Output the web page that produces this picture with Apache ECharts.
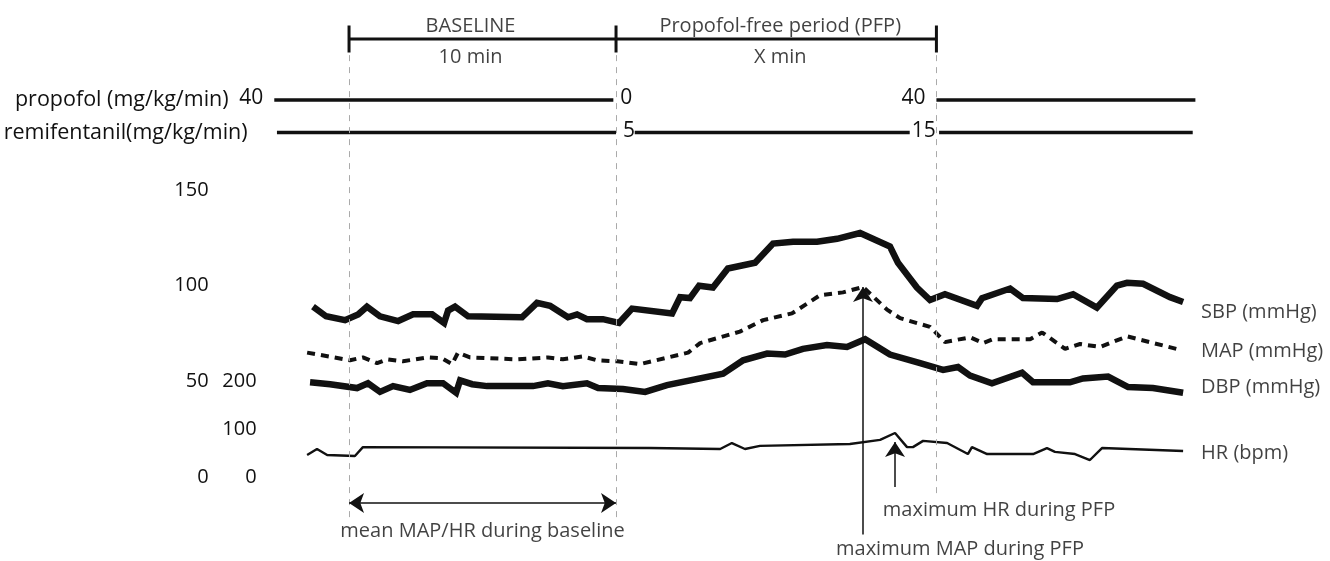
<!DOCTYPE html>
<html>
<head>
<meta charset="utf-8">
<title>Propofol-free period</title>
<script src="https://cdn.jsdelivr.net/npm/echarts@6/dist/echarts.min.js"></script>
<style>
html, body { margin: 0; padding: 0; background: #fff; }
#main { width: 1330px; height: 561px; }
</style>
</head>
<body>
<div id="main"></div>
<script>
// time is in minutes from the start of the baseline
var periodEdges = [0, 10, 22];
var periodNames = ['BASELINE', 'Propofol-free period (PFP)'];
var periodLengths = ['10 min', 'X min'];

// infusion rows, segments [from, to] and the rate written at each end
var infusionRows = ['propofol (mg/kg/min)', 'remifentanil(mg/kg/min)'];
var propofolSegments = [[-2.8, 9.9], [22.0, 31.7]];
var propofolRates = ['40', '0', '40', ''];
var remiSegments = [[-2.7, 10.0], [10.7, 21.0], [22.1, 31.6]];
var remiRates = ['', '5', '', '15', '', ''];

// blood pressure traces [min, mmHg]
var sbp = [[-1.35,89],[-0.86,84],[-0.15,82],[0.34,85],[0.67,89],[1.16,84],[1.84,81.5],[2.4,85],[3.11,85],[3.56,80.5],[3.71,87],[3.97,89],[4.46,84],[6.48,83.5],[7.04,91],[7.53,89.5],[8.2,83.5],[8.54,85],[8.91,82.5],[9.51,82.5],[10.11,80.5],[10.6,88],[12.1,85.5],[12.4,94],[12.77,93.5],[13.11,100],[13.63,99],[14.19,109],[15.21,112],[15.88,122],[16.63,123],[17.53,123],[18.28,124.5],[19.14,127.5],[20.26,120.5],[20.56,112],[21.27,99],[21.76,92.5],[22.32,95.5],[23.52,89.5],[23.71,93.5],[24.76,98.5],[25.24,93.5],[26.52,93],[27.12,95.5],[28.01,88.5],[28.76,100],[29.14,101.5],[29.74,101],[30.75,94],[31.24,91.5]];
var mapBp = [[-1.57,65],[0.04,61],[0.52,62.5],[1.05,59.5],[1.42,61.5],[2.02,60.5],[2.92,62.5],[3.48,62],[3.86,59],[4.08,65],[4.53,62.5],[6.29,61.5],[7.45,62.5],[8.01,61.5],[8.76,63],[9.29,61],[10.04,60.5],[10.9,59],[12.7,65],[13.15,70],[14.64,76],[15.51,82],[16.59,85.5],[17.64,95],[18.5,96.5],[19.25,99.3],[20.15,87.5],[20.64,83],[21.76,78.5],[22.32,70.5],[23.26,73],[23.75,70],[24.12,72],[25.51,72],[25.96,75.5],[26.82,67],[27.38,69.5],[28.13,68],[29.14,73.5],[31.12,66.5]];
var dbp = [[-1.46,49.5],[-0.71,48.5],[0.3,46.5],[0.71,49],[1.16,44.5],[1.65,47.5],[2.28,45.5],[2.92,49],[3.52,49],[4.01,44],[4.16,50.5],[4.61,48.5],[5.17,47.5],[6.89,47.5],[7.45,49],[8.01,47.5],[8.91,49],[9.33,46.5],[10.26,46],[11.09,44.5],[11.91,48],[14.01,54],[14.76,61],[15.66,64.5],[16.33,64],[17.0,67],[17.9,69],[18.65,68],[19.33,72],[20.26,64],[21.39,59.5],[22.25,56],[22.81,57.5],[23.26,53],[24.08,49],[25.21,54.5],[25.62,49.5],[27.0,49.5],[27.49,51.5],[28.43,52.5],[29.18,47],[30.11,46.5],[31.24,44]];

// heart rate [min, bpm]
var hr = [[-1.57,46],[-1.2,58.5],[-0.82,46],[0.22,44],[0.52,62.5],[11.27,60.5],[13.9,58.5],[14.34,71],[14.83,58.5],[15.39,65],[18.76,69],[19.89,77.5],[20.45,92],[20.9,62.5],[21.12,62.5],[21.5,75.5],[22.4,71],[23.18,48],[23.33,62.5],[23.9,48],[25.62,48],[26.14,60.5],[26.44,52.5],[27.19,48],[27.75,35.5],[28.2,60.5],[31.24,54.5]];

var traceNames = ['SBP (mmHg)', 'MAP (mmHg)', 'DBP (mmHg)', 'HR (bpm)'];
var bpTicks = [0, 50, 100, 150];
var hrTicks = [0, 100, 200];

var FONT = 'Open Sans';
var INK = '#111';
var TXT = '#111';

// peak of a trace inside the propofol-free period
function peakIn(trace, from, to) {
	var best = null;
	for (var i = 0; i < trace.length; i++) {
		var p = trace[i];
		if (p[0] >= from && p[0] <= to && (best == null || p[1] > best[1])) best = p;
	}
	return best;
}

// turn segments into line data with the rates as point labels
function segmentData(segs, rates, row) {
	var out = [];
	for (var i = 0; i < segs.length; i++) {
		if (i > 0) out.push('-');
		var a = rates[2 * i], b = rates[2 * i + 1];
		out.push({ value: [segs[i][0], row], label: { show: a !== '', formatter: a, position: 'left', distance: 11 } });
		out.push({ value: [segs[i][1], row], label: { show: b !== '', formatter: b, position: 'right', distance: b === '15' ? 2 : 7 } });
	}
	return out;
}

function txt(size) {
	return { fontFamily: FONT, fontSize: size || 20, color: TXT };
}

var mapPeak = peakIn(mapBp, periodEdges[1], periodEdges[2]);
var hrPeak = peakIn(hr, periodEdges[1], periodEdges[2]);

var gridX = { left: 263.6, right: 19.8 };

function hiddenX(i) {
	return { type: 'value', gridIndex: i, min: -3.2, max: 36, show: false };
}

var periodLabelData = [];
for (var k = 0; k < periodNames.length; k++) {
	var mid = (periodEdges[k] + periodEdges[k + 1]) / 2;
	var shift = k === 0 ? -12 : 4;
	periodLabelData.push({ value: [mid, 0], label: { formatter: periodNames[k], position: 'top', distance: 3, offset: [shift, 0] } });
	periodLabelData.push({ value: [mid, 0], label: { formatter: periodLengths[k], position: 'bottom', distance: 8, offset: [shift, 0] } });
}

var endOffsets = [[18, 10], [21, 2], [18, -6], [18, 2]];
var bpTraces = [sbp, mapBp, dbp];
var endBp = [];
for (var j = 0; j < 3; j++) {
	var last = bpTraces[j][bpTraces[j].length - 1];
	endBp.push({ value: last, label: { formatter: traceNames[j], distance: endOffsets[j][0], offset: [0, endOffsets[j][1]] } });
}
var endHr = [{ value: hr[hr.length - 1], label: { formatter: traceNames[3], distance: endOffsets[3][0], offset: [0, endOffsets[3][1]] } }];

var guideBottom = [-23.5, -23.5, -10];
var guides = [];
for (var g = 0; g < periodEdges.length; g++) {
	guides.push([{ coord: [periodEdges[g], 220.5] }, { coord: [periodEdges[g], guideBottom[g]] }]);
}

var baselineArrowY = -13.6;
var mapArrowBottom = -30;
var hrArrowBottom = -21;

var option = {
	animation: false,
	backgroundColor: '#fff',
	textStyle: { fontFamily: FONT },
	grid: [
		{ left: gridX.left, right: gridX.right, top: 46.5, bottom: 26.6 },
		{ left: gridX.left, right: gridX.right, top: 26, height: 26 },
		{ left: gridX.left, right: gridX.right, top: 83.75, height: 65 }
	],
	xAxis: [hiddenX(0), hiddenX(1), hiddenX(2)],
	yAxis: [
		{
			type: 'value', gridIndex: 0, min: -30, max: 225, interval: 5,
			axisLine: { show: false }, axisTick: { show: false }, splitLine: { show: false },
			axisLabel: Object.assign(txt(20), { margin: 55, formatter: function (v) { return bpTicks.indexOf(v) >= 0 ? String(v) : ''; } })
		},
		{
			type: 'value', gridIndex: 0, position: 'left', min: -120, max: 900, interval: 20,
			axisLine: { show: false }, axisTick: { show: false }, splitLine: { show: false },
			axisLabel: Object.assign(txt(20), { margin: 7, formatter: function (v) { return hrTicks.indexOf(v) >= 0 ? String(v) : ''; } })
		},
		{ type: 'category', gridIndex: 1, data: ['period'], show: false },
		{
			type: 'category', gridIndex: 2, data: infusionRows, inverse: true,
			axisLine: { show: false }, axisTick: { show: false }, splitLine: { show: false },
			axisLabel: {
				margin: 16,
				formatter: function (v, i) { return i === 0 ? '{p|' + v + '}' : '{r|' + v + '}'; },
				rich: {
					p: { fontFamily: FONT, fontSize: 21.5, color: TXT, padding: [0, 19, 0, 0] },
					r: { fontFamily: FONT, fontSize: 21.5, color: TXT }
				}
			}
		}
	],
	series: [
		{
			// period bars with end ticks
			type: 'line', xAxisIndex: 1, yAxisIndex: 2,
			data: periodEdges.map(function (x) { return [x, 0]; }),
			symbol: 'rect', symbolSize: [3, 27],
			itemStyle: { color: INK }, lineStyle: { color: INK, width: 3 }
		},
		{
			type: 'scatter', xAxisIndex: 1, yAxisIndex: 2,
			data: periodLabelData, symbolSize: 0, itemStyle: { color: 'transparent' },
			label: Object.assign(txt(20), { show: true })
		},
		{
			type: 'line', xAxisIndex: 2, yAxisIndex: 3,
			data: segmentData(propofolSegments, propofolRates, 0),
			symbol: 'circle', symbolSize: 0, showSymbol: true,
			itemStyle: { color: INK }, lineStyle: { color: INK, width: 3.5 },
			label: Object.assign(txt(21), { offset: [0, -2] })
		},
		{
			type: 'line', xAxisIndex: 2, yAxisIndex: 3,
			data: segmentData(remiSegments, remiRates, 1),
			symbol: 'circle', symbolSize: 0, showSymbol: true,
			itemStyle: { color: INK }, lineStyle: { color: INK, width: 3.5 },
			label: Object.assign(txt(21), { offset: [0, -1] })
		},
		{
			name: traceNames[0], type: 'line', xAxisIndex: 0, yAxisIndex: 0,
			data: sbp, showSymbol: false,
			lineStyle: { color: INK, width: 6.5, join: 'miter', miterLimit: 4 },
			markLine: {
				silent: true, symbol: 'none', label: { show: false },
				lineStyle: { color: '#aaa', width: 1, type: [6, 6] },
				data: guides
			}
		},
		{
			name: traceNames[1], type: 'line', xAxisIndex: 0, yAxisIndex: 0,
			data: mapBp, showSymbol: false,
			lineStyle: { color: INK, width: 4, type: [8, 6] },
			markLine: {
				silent: true, symbol: ['arrow', 'arrow'], symbolSize: 15, label: { show: false },
				lineStyle: { color: INK, width: 1.5, type: 'solid' },
				data: [
					[{ coord: [periodEdges[0], baselineArrowY] }, { coord: [periodEdges[1], baselineArrowY] }],
					[{ coord: [mapPeak[0], mapArrowBottom], symbol: 'none' }, { coord: [mapPeak[0], mapPeak[1]], symbol: 'arrow' }]
				]
			}
		},
		{
			name: traceNames[2], type: 'line', xAxisIndex: 0, yAxisIndex: 0,
			data: dbp, showSymbol: false,
			lineStyle: { color: INK, width: 6.5, join: 'miter', miterLimit: 4 }
		},
		{
			name: traceNames[3], type: 'line', xAxisIndex: 0, yAxisIndex: 1,
			data: hr, showSymbol: false,
			lineStyle: { color: INK, width: 2.4 },
			markLine: {
				silent: true, symbol: ['none', 'arrow'], symbolSize: 15, label: { show: false },
				lineStyle: { color: INK, width: 1.5, type: 'solid' },
				data: [[{ coord: [hrPeak[0], hrArrowBottom] }, { coord: [hrPeak[0], hrPeak[1] - 19] }]]
			}
		},
		{
			// trace names at the right end
			type: 'scatter', xAxisIndex: 0, yAxisIndex: 0, clip: false,
			data: endBp, symbolSize: 0, itemStyle: { color: 'transparent' },
			label: Object.assign(txt(20), { show: true, position: 'right' })
		},
		{
			type: 'scatter', xAxisIndex: 0, yAxisIndex: 1, clip: false,
			data: endHr, symbolSize: 0, itemStyle: { color: 'transparent' },
			label: Object.assign(txt(20), { show: true, position: 'right' })
		},
		{
			// notes under the arrows
			type: 'scatter', xAxisIndex: 0, yAxisIndex: 0, clip: false,
			symbolSize: 0, itemStyle: { color: 'transparent' },
			label: Object.assign(txt(20), { show: true, position: 'bottom' }),
			data: [
				{ value: [(periodEdges[0] + periodEdges[1]) / 2, baselineArrowY], label: { formatter: 'mean MAP/HR during baseline', distance: 18 } },
				{ value: [mapPeak[0], mapArrowBottom], label: { formatter: 'maximum MAP during PFP', distance: 5, offset: [97, 0] } }
			]
		},
		{
			type: 'scatter', xAxisIndex: 0, yAxisIndex: 1, clip: false,
			symbolSize: 0, itemStyle: { color: 'transparent' },
			label: Object.assign(txt(20), { show: true, position: 'bottom' }),
			data: [
				{ value: [hrPeak[0], hrArrowBottom], label: { formatter: 'maximum HR during PFP', distance: 13, offset: [104, 0] } }
			]
		}
	]
};

var chart = echarts.init(document.getElementById('main'));
chart.setOption(option);
</script>
</body>
</html>
